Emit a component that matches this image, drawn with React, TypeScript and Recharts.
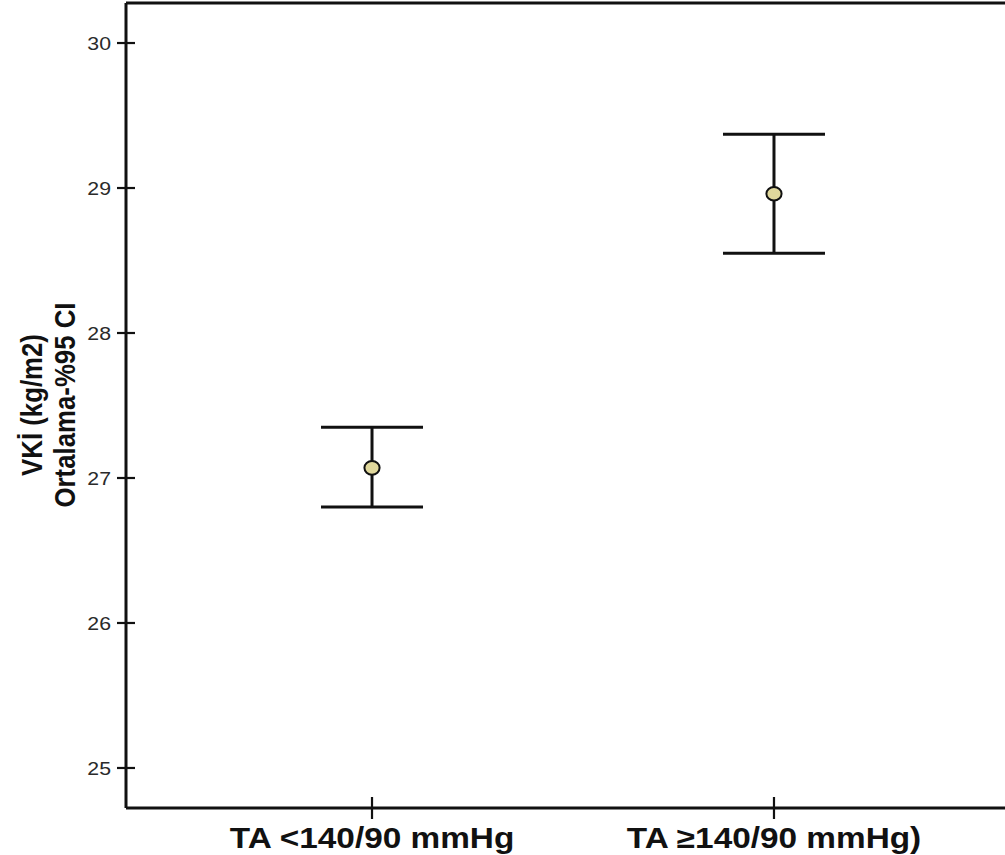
import React from "react";
import { ScatterChart, Scatter, XAxis, YAxis, ErrorBar, ReferenceLine } from "recharts";

// groups and their x positions
const categories = ["TA <140/90 mmHg", "TA ≥140/90 mmHg)"];
const positions = [1, 2];

// mean BMI and 95% CI bounds
const means = [27.07, 28.96];
const lowerCI = [26.8, 28.55];
const upperCI = [27.35, 29.37];

const yTicks = [25, 26, 27, 28, 29, 30];
const yLabelLines = ["VKİ (kg/m2)", "Ortalama-%95 CI"];

const data = categories.map((c, i) => ({
  x: positions[i],
  y: means[i],
  err: [means[i] - lowerCI[i], upperCI[i] - means[i]],
  label: c,
}));

const INK = "#111";
const FONT = "'Liberation Sans', Arial, sans-serif";
const STRETCH = 1.15;

const Y_TICK = 9;
const Y_MARGIN = 6;
const X_TICK = 11;

function YTick({ x, y, payload }: any) {
  const axisX = x + Y_TICK + Y_MARGIN;
  return (
    <g>
      <line x1={axisX - Y_TICK} x2={axisX + Y_TICK} y1={y} y2={y} stroke={INK} strokeWidth={2.2} />
      <g transform={`translate(${x},${y})`}>
        <text transform={`scale(${STRETCH},1)`} textAnchor="end" dy="0.36em" fontFamily={FONT} fontSize={18.5} fill="#2a2a2a">
          {payload.value}
        </text>
      </g>
    </g>
  );
}

function XTick({ x, y, payload }: any) {
  const axisY = y - X_TICK;
  return (
    <g>
      <line x1={x} x2={x} y1={axisY - X_TICK} y2={axisY + X_TICK} stroke={INK} strokeWidth={2.2} />
      <g transform={`translate(${x},${y + 29})`}>
        <text transform={`scale(${STRETCH},1)`} textAnchor="middle" fontFamily={FONT} fontSize={29} fontWeight="bold" fill={INK}>
          {categories[payload.value - 1]}
        </text>
      </g>
    </g>
  );
}

function renderYLabel() {
  return (
    <g transform={`translate(0,405) scale(${STRETCH},1) rotate(-90)`}>
      <text textAnchor="middle" fontFamily={FONT} fontSize={25.8} fontWeight="bold" fill={INK}>
        <tspan x={0} y={36.5}>{yLabelLines[0]}</tspan>
        <tspan x={0} y={65}>{yLabelLines[1]}</tspan>
      </text>
    </g>
  );
}

function Dot({ cx, cy }: any) {
  return <ellipse cx={cx} cy={cy} rx={7.6} ry={6.8} fill="#e0d89c" stroke={INK} strokeWidth={2} />;
}

const xDomain = [0.388, 2.612];
const yDomain = [24.724, 30.276];
const axisStyle = { stroke: INK, strokeWidth: 3 };

export default function App() {
  return (
    <div style={{ position: "absolute", left: 0, top: 0, width: 1005, height: 855, overflow: "hidden", background: "#fff" }}>
      <ScatterChart width={1040} height={855} margin={{ top: 3, right: 20, bottom: 0, left: 0 }}>
        <XAxis
          dataKey="x"
          type="number"
          domain={xDomain}
          ticks={positions}
          allowDataOverflow
          height={47}
          tickSize={X_TICK}
          tickMargin={0}
          tickLine={false}
          axisLine={axisStyle}
          tick={<XTick />}
        />
        <YAxis
          dataKey="y"
          type="number"
          domain={yDomain}
          ticks={yTicks}
          allowDataOverflow
          width={126}
          tickSize={Y_TICK}
          tickMargin={Y_MARGIN}
          tickLine={false}
          axisLine={axisStyle}
          tick={<YTick />}
          label={{ value: "", content: renderYLabel }}
        />
        {/* top frame line */}
        <ReferenceLine y={yDomain[1]} stroke={INK} strokeWidth={3} ifOverflow="visible" />
        <Scatter data={data} dataKey="y" shape={<Dot />} isAnimationActive={false}>
          <ErrorBar dataKey="err" direction="y" width={51} stroke={INK} strokeWidth={3} isAnimationActive={false} />
        </Scatter>
      </ScatterChart>
    </div>
  );
}
